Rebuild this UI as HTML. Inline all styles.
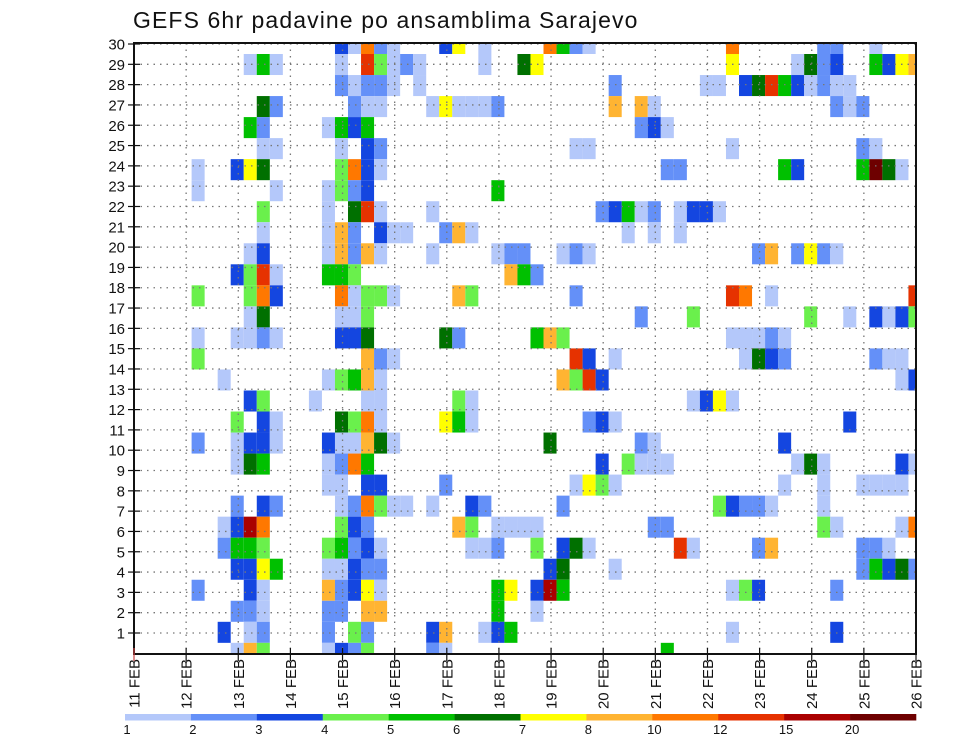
<!DOCTYPE html>
<html><head><meta charset="utf-8"><style>
html,body{margin:0;padding:0;background:#fff;}
svg{display:block;font-family:"Liberation Sans",sans-serif;}
</style></head><body>
<svg id="chart" width="960" height="742" xmlns="http://www.w3.org/2000/svg">
<text x="133" y="28" font-size="23" letter-spacing="1.1" fill="#111">GEFS 6hr padavine po ansamblima Sarajevo</text>
<g id="cells"></g>
<g id="grid"></g>
<rect x="134" y="43" width="782" height="611" fill="none" stroke="#111" stroke-width="2"/>
<g id="yaxis"></g>
<g id="xaxis"></g>
<g id="legend"></g>
</svg>
<script>
// member rows top (band 0, member 30) to bottom; one char per 6h step, '.' = none
const members = [
["..........",".....caiba","...cg.a...",".ieba.....",".....i....","..bb..a..."],
["........ae","a....a.jda","ba....a..f","g.........",".....g....","afbc..ecgh"],
["..........",".....babba",".a........","......b...","...aa.cfje","cabaa....."],
[".........f","b.....baa.","..agaaab..","......h.ha","..........","...bab...."],
["........eb","....aece..","..........","........bc","a.........",".........."],
[".........a","a....a.cb.","..........","...aa.....",".....a....",".....ba..."],
["....a..cgf",".....dica.","..........","..........","bb.......e","c....elfa."],
["....a.....","a...adbc..",".......e..","..........","..........",".........."],
[".........d","....a.fja.","..a.......",".....bceab",".acca.....",".........."],
[".........a","....ahb.ca","a..bha....",".......a.a",".a........",".........."],
["........ac","....ahbha.","..a....abb","..aba.....",".......bh.","bgba......"],
[".......cdj","a...eed...","........he","b.........","..........",".........."],
["....d...di","c....iadda","....hd....","...b......",".....ji.a.",".........j"],
["........af",".....aad..","..........","........b.","..d.......",".d..a.cacd"],
["....a..aab","a....ccf..","...fb.....","ehd.......",".....aaaba",".........."],
["....d.....",".......hba","..........","...jc.a...","......afcb","......baa."],
["......a...","....adeha.","..........","..hdjc....","..........","........ac"],
["........cd","...a...aa.","....da....","..........","..acga....",".........."],
[".......d.c","a....fdia.","...gea....","....bca...","..........","....c....."],
["....b..acc","a...caahfa","..........",".f......ba",".........c",".........."],
[".......afe","....abie..","..........",".....c.daa","a.........","afa.....ca"],
["..........","....aa.cc.","...b......","...agda...",".........a","..a..aaaa."],
[".......b.c","b....abida","a.a..cb...","..b.......","....dcbba.","..a......."],
["......acki",".....dcb..","....hd.aaa","a........b","b.........","..da....ai"],
["......beed","....debca.",".....aab..","d.cfa.....",".ja....bh.",".....bba.."],
[".......ccg","e...aacbb.","..........",".cf...a...","..........",".....becfb"],
["....b...ca","....hbcga.",".......eg.","cke.......",".....adc..","...b......"],
[".......bba","....bb.hh.",".......e..","a.........","..........",".........."],
["......c.ab","....b.db..","..ch..ace.","..........",".....a....","...c......"],
[".......ahd","....acbd..","..ba......","..........","e.........",".........."]
].map(c=>c.join(''));
const levelCodes = ["a","b","c","d","e","f","g","h","i","j","k","l"];
const levelColors = ["#b4c8fa","#6490f8","#1446e0","#6af04c","#00c000","#007000","#ffff00","#ffb432","#ff7800","#e63200","#aa0000","#6e0000"];
const legendLabels = ["1","2","3","4","5","6","7","8","10","12","15","20"];
const dayLabels = ["11 FEB","12 FEB","13 FEB","14 FEB","15 FEB","16 FEB","17 FEB","18 FEB","19 FEB","20 FEB","21 FEB","22 FEB","23 FEB","24 FEB","25 FEB","26 FEB"];
const memberTicks = [1,2,3,4,5,6,7,8,9,10,11,12,13,14,15,16,17,18,19,20,21,22,23,24,25,26,27,28,29,30];

const NS="http://www.w3.org/2000/svg";
const L=134,R=916,T=43,B=654;
const colW=(R-L)/60;
function xStep(j){return L+colW*(j+0.42);}
function yBand(b){return 54+21.03*(b-1);}
function yMember(m){return 633-(m-1)*20.31;}
function xDay(d){return L+(R-L)/15*d;}
function mk(tag,attrs,parent){const e=document.createElementNS(NS,tag);for(const k in attrs)e.setAttribute(k,attrs[k]);parent.appendChild(e);return e;}

const cells=document.getElementById('cells');
members.forEach((row,b)=>{
  for(let j=0;j<60;j++){
    const ch=row[j]; const li=levelCodes.indexOf(ch);
    if(li<0) continue;
    let x0=xStep(j), x1=x0+colW, y0=yBand(b), y1=y0+21.03;
    x0=Math.max(x0,L); x1=Math.min(x1,R); y0=Math.max(y0,T); y1=Math.min(y1,B);
    if(x1<=x0||y1<=y0) continue;
    const r=mk('rect',{x:x0,y:y0,width:x1-x0,height:y1-y0,fill:levelColors[li]},cells);
    
    
  }
});

const grid=document.getElementById('grid');
memberTicks.forEach(m=>{
  const y=yMember(m);
  const g=mk('line',{x1:L,x2:R,y1:y,y2:y,stroke:"#777","stroke-width":1.3,"stroke-dasharray":"1.5,5.0"},grid);
  
  
});
dayLabels.forEach((d,i)=>{
  if(i===0||i===15) return;
  const x=xDay(i);
  const g=mk('line',{x1:x,x2:x,y1:T,y2:B,stroke:"#777","stroke-width":1.3,"stroke-dasharray":"1.5,5.0"},grid);
  
  
});

const yaxis=document.getElementById('yaxis');
memberTicks.forEach(m=>{
  const y=yMember(m);
  const t=mk('line',{x1:128,x2:140,y1:y,y2:y,stroke:"#111","stroke-width":1.2},yaxis);
  
  
  const lb=mk('text',{x:125,y:y+5.5,"text-anchor":"end","font-size":15,fill:"#111"},yaxis);
  lb.textContent=m;
  
  
});

const xaxis=document.getElementById('xaxis');
dayLabels.forEach((d,i)=>{
  const x=xDay(i);
  const t=mk('line',{x1:x,x2:x,y1:B-6,y2:B+7,stroke:i===0?"#c44":"#111","stroke-width":1.2},xaxis);
  
  
  const lb=mk('text',{x:0,y:0,"text-anchor":"end","font-size":15,fill:"#111",transform:`translate(${x+5.5},659) rotate(-90)`},xaxis);
  lb.textContent=d;
  
  
});

const legend=document.getElementById('legend');
const segW=(916-125)/levelColors.length;
levelColors.forEach((c,i)=>{
  const r=mk('rect',{x:125+segW*i,y:714,width:segW+0.3,height:6.5,fill:c},legend);
  
  
  const lb=mk('text',{x:125+segW*i+2,y:734,"text-anchor":"middle","font-size":13,fill:"#111"},legend);
  lb.textContent=legendLabels[i];
  
  
});
</script>
</body></html>
